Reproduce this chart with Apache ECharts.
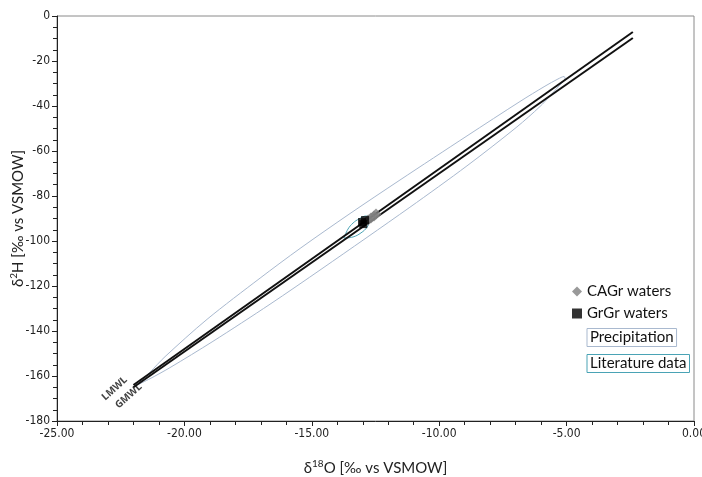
<!DOCTYPE html>
<html>
<head>
<meta charset="utf-8">
<script src="https://cdn.jsdelivr.net/npm/echarts@6/dist/echarts.min.js"></script>
<style>
html,body{margin:0;padding:0;background:#fff;}
#chart{width:702px;height:477px;}
</style>
</head>
<body>
<div id="chart"></div>
<script>
// ---- data ----
const cagrX = [-12.79, -12.68, -12.56, -12.48];
const cagrY = [-90.7, -89.8, -88.9, -88.0];
const grgrX = [-13.03, -12.91, -12.98];
const grgrY = [-91.6, -90.7, -92.5];
const lmwlX = [-22.0, -2.4];
const lmwlY = [-164.0, -7.1];
const gmwlX = [-22.0, -2.4];
const gmwlY = [-165.0, -9.8];
const precipX = [-21.86, -21.35, -20.76, -19.11, -17.03, -15.46, -13.50, -11.54, -8.91, -6.83, -5.85, -5.34, -5.10, -5.06, -5.26, -5.65, -6.04, -6.95, -8.91, -11.15, -14.60, -16.64, -18.88, -20.57, -21.35, -21.86];
const precipY = [-164.0, -158.3, -151.4, -134.8, -116.5, -103.3, -87.8, -72.9, -53.3, -38.0, -31.2, -28.0, -26.9, -28.0, -30.6, -35.5, -40.2, -49.3, -66.6, -85.0, -112.3, -128.1, -144.6, -156.3, -161.2, -164.0];
const litX = [-13.74, -13.58, -13.38, -13.15, -12.87, -12.72, -12.83, -13.07, -13.38, -13.74];
const litY = [-98.7, -94.7, -92.0, -90.2, -88.9, -90.2, -93.8, -96.4, -98.2, -98.7];
const lineLabelNames = ['LMWL', 'GMWL'];
const lineLabelX = [-22.74, -22.19];
const lineLabelY = [-165.6, -168.9];
const legendNames = ['CAGr waters', 'GrGr waters', 'Precipitation', 'Literature data'];

const zip = (xs, ys) => xs.map((x, i) => [x, ys[i]]);
const FONT = 'Lato, "Noto Sans", sans-serif';
const TICKFONT = '"Liberation Sans Narrow", "DejaVu Sans Condensed", sans-serif';

const chart = echarts.init(document.getElementById('chart'), null, {renderer: 'canvas'});
chart.setOption({
  animation: false,
  backgroundColor: '#fff',
  grid: {left: 57, right: 8, top: 16, bottom: 56, containLabel: false, outerBoundsMode: 'none',
    show: true, borderColor: '#8a8a8a', borderWidth: 1},
  xAxis: {
    type: 'value', min: -25, max: 0, interval: 5,
    name: 'δ{sup|18}O [‰ vs VSMOW]', nameLocation: 'middle', nameGap: 38,
    nameTextStyle: {fontFamily: FONT, fontSize: 15, color: '#222',
      rich: {sup: {fontFamily: FONT, fontSize: 10, color: '#222', verticalAlign: 'top', padding: [0, 0, 8, 0]}}},
    axisLine: {show: true, onZero: false, lineStyle: {color: '#222', width: 1}},
    axisTick: {show: true, length: 5, lineStyle: {color: '#222'}},
    minorTick: {show: true, splitNumber: 5, length: 4, lineStyle: {color: '#222'}},
    splitLine: {show: false},
    axisLabel: {fontFamily: TICKFONT, fontSize: 12, color: '#222', margin: 7,
      formatter: v => v.toFixed(2)}
  },
  yAxis: {
    type: 'value', min: -180, max: 0, interval: 20,
    name: 'δ{sup|2}H [‰ vs VSMOW]', nameLocation: 'middle', nameGap: 30, nameMoveOverlap: false,
    nameTextStyle: {fontFamily: FONT, fontSize: 15, color: '#222',
      rich: {sup: {fontFamily: FONT, fontSize: 10, color: '#222', verticalAlign: 'top', padding: [0, 0, 8, 0]}}},
    axisLine: {show: true, onZero: false, lineStyle: {color: '#222', width: 1}},
    axisTick: {show: true, length: 5, lineStyle: {color: '#222'}},
    minorTick: {show: true, splitNumber: 4, length: 4, lineStyle: {color: '#222'}},
    splitLine: {show: false},
    axisLabel: {fontFamily: TICKFONT, fontSize: 12, color: '#222', margin: 7}
  },
  legend: {
    orient: 'vertical', left: 567, top: 279, itemWidth: 10, itemHeight: 10, itemGap: 7,
    selectedMode: false,
    textStyle: {fontFamily: FONT, fontSize: 15, color: '#111'},
    data: [
      {name: legendNames[0], icon: 'diamond'},
      {name: legendNames[1], icon: 'rect'},
      {name: legendNames[2], icon: 'none', textStyle: {borderColor: '#a9b9cf', borderWidth: 1, padding: [2, 3, 1, 3]}},
      {name: legendNames[3], icon: 'none', textStyle: {borderColor: '#4aa3b5', borderWidth: 1, padding: [2, 3, 1, 3]}}
    ]
  },
  series: [
    {name: legendNames[2], type: 'line', data: zip(precipX, precipY), smooth: 0.3, showSymbol: false,
      lineStyle: {color: '#a9b9cf', width: 1}, itemStyle: {color: '#a9b9cf'}, z: 1},
    {name: legendNames[3], type: 'line', data: zip(litX, litY), smooth: 0.4, showSymbol: false,
      lineStyle: {color: '#4aa3b5', width: 1}, itemStyle: {color: '#4aa3b5'}, z: 1},
    {name: 'LMWL', type: 'line', data: zip(lmwlX, lmwlY), showSymbol: false,
      lineStyle: {color: '#111', width: 2}, z: 2},
    {name: 'GMWL', type: 'line', data: zip(gmwlX, gmwlY), showSymbol: false,
      lineStyle: {color: '#111', width: 2}, z: 2},
    {name: legendNames[1], type: 'scatter', data: zip(grgrX, grgrY), symbol: 'rect', symbolSize: 8,
      itemStyle: {color: '#000'}, z: 4},
    {name: legendNames[0], type: 'scatter', data: zip(cagrX, cagrY), symbol: 'diamond', symbolSize: 11,
      itemStyle: {color: '#7f7f7f'}, z: 3},
    {name: 'lineLabels', type: 'scatter', symbol: 'circle', symbolSize: 1, silent: true, z: 5,
      itemStyle: {color: 'rgba(0,0,0,0)'},
      data: lineLabelNames.map((n, i) => ({name: n, value: [lineLabelX[i], lineLabelY[i]]})),
      label: {show: true, position: 'inside', formatter: p => p.name, rotate: 42,
        fontFamily: '"Noto Sans", sans-serif', fontSize: 10, fontWeight: 'bold', color: '#111'}}
  ]
});
</script>
</body>
</html>
